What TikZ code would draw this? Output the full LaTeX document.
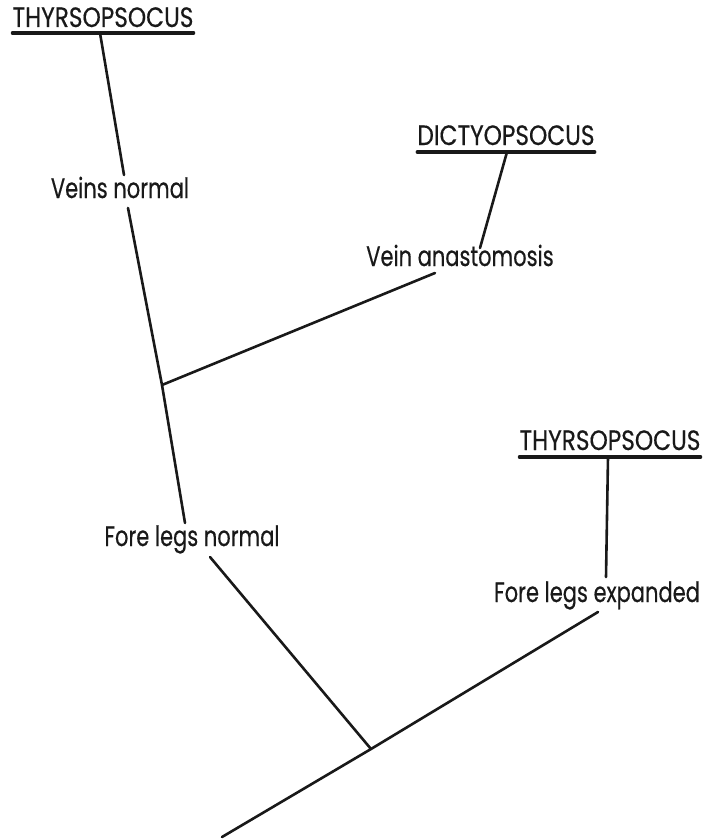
\documentclass[tikz,border=0pt]{standalone}
\usepackage{fontspec}
\newfontfamily\treefont[FakeStretch=0.75,FakeBold=0.4]{Poppins}
\newfontfamily\capfont[FakeStretch=0.83,FakeBold=0.4]{Poppins}
\begin{document}
\begin{tikzpicture}[x=1pt,y=-1pt,
  lbl/.style={anchor=base,inner sep=0pt,font=\treefont\fontsize{28}{32}\selectfont,text=black!90},
  taxon/.style={anchor=base,inner sep=0pt,font=\capfont\fontsize{28}{32}\selectfont,text=black!90},
  branch/.style={line width=2.6pt,black!90,line cap=round},
  uline/.style={line width=3.2pt,black!90,line cap=round}]
\useasboundingbox (0,0) rectangle (707,840);

% labels
\node[taxon] (t1) at (103,27) {THYRSOPSOCUS};
\node[lbl] (vn) at (120,198) {Veins normal};
\node[taxon] (dc) at (506,145) {DICTYOPSOCUS};
\node[lbl] (va) at (460,266) {Vein anastomosis};
\node[taxon] (t2) at (610,450) {THYRSOPSOCUS};
\node[lbl] (fn) at (192,546) {Fore legs normal};
\node[lbl] (fe) at (597,602) {Fore legs expanded};

% underlines
\draw[uline] ([yshift=-6pt]t1.base west) -- ([yshift=-6pt]t1.base east);
\draw[uline] ([yshift=-7pt]dc.base west) -- ([yshift=-7pt]dc.base east);
\draw[uline] ([yshift=-7pt]t2.base west) -- ([yshift=-7pt]t2.base east);

% named points
\coordinate (t1u) at (100,33);
\coordinate (vnt) at (124,175);
\coordinate (vnb) at (128,208);
\coordinate (j1)  at (162,385);
\coordinate (fnt) at (185,523);
\coordinate (vat) at (435,273);
\coordinate (vab) at (480,248);
\coordinate (dcu) at (507,152);
\coordinate (t2u) at (608,457);
\coordinate (fet) at (606,577);
\coordinate (fnb) at (210,557);
\coordinate (j2)  at (371,749);
\coordinate (root) at (222,837);
\coordinate (feb) at (598,612);

% branches
\draw[branch] (t1u) -- (vnt);
\draw[branch] (vnb) -- (j1) -- (fnt);
\draw[branch] (j1) -- (vat);
\draw[branch] (vab) -- (dcu);
\draw[branch] (t2u) -- (fet);
\draw[branch] (fnb) -- (j2);
\draw[branch] (root) -- (j2) -- (feb);
\end{tikzpicture}
\end{document}
